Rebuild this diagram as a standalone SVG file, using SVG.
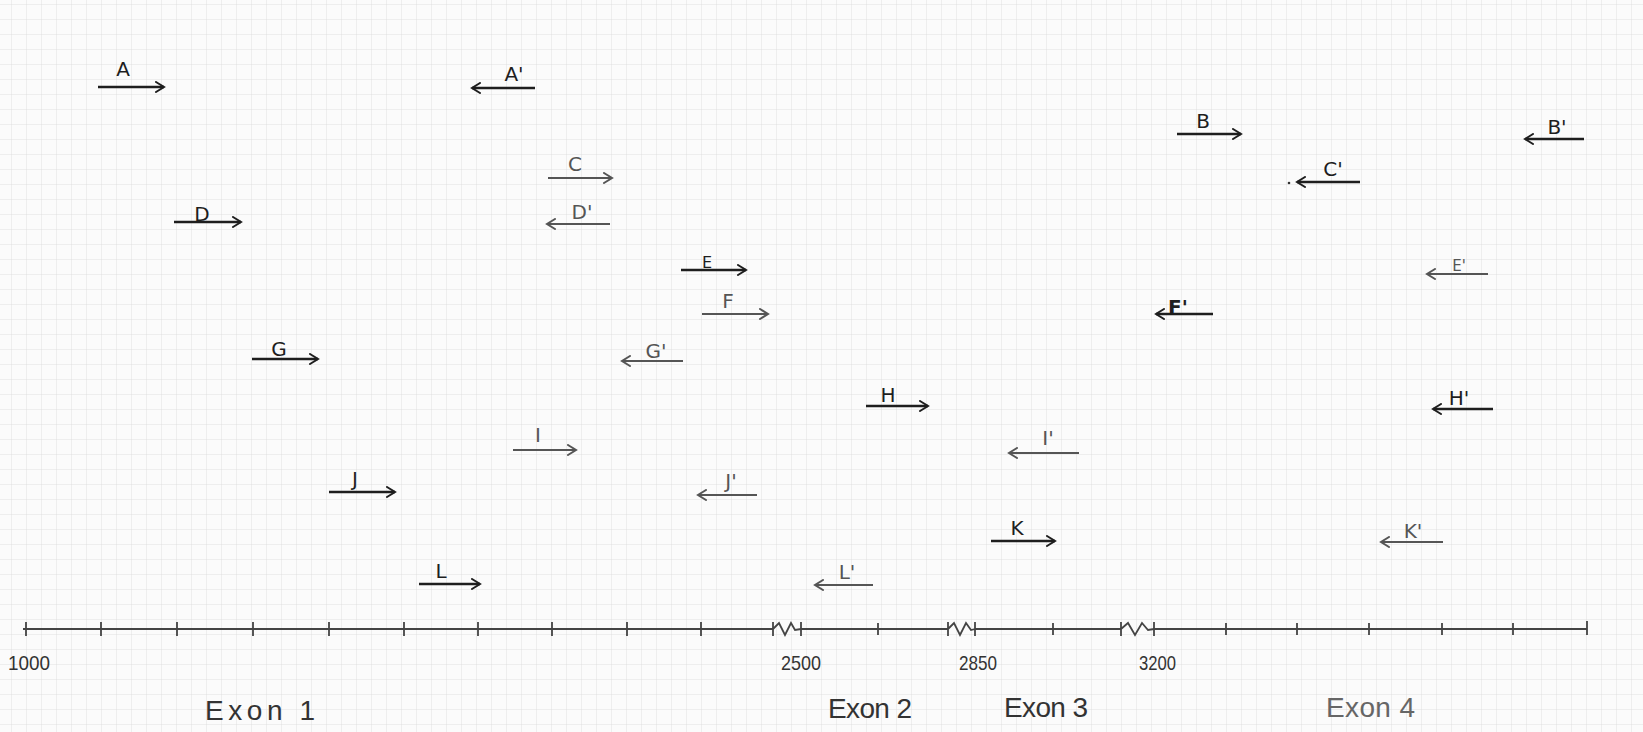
<svg xmlns="http://www.w3.org/2000/svg" width="1643" height="732" viewBox="0 0 1643 732">
<defs>
<pattern id="grid" x="11" y="4" width="15" height="15" patternUnits="userSpaceOnUse">
<path d="M15,0 L0,0 L0,15" fill="none" stroke="#d9d9d9" stroke-width="0.8"/>
</pattern>
<marker id="ahd" viewBox="-10 -6 12 12" markerWidth="12" markerHeight="12" refX="0" refY="0" orient="auto" markerUnits="userSpaceOnUse">
<path d="M-8,-5 L0,0 L-8,5" fill="none" stroke="#1e1e1e" stroke-width="2" stroke-linecap="round"/>
</marker>
<marker id="ahm" viewBox="-10 -6 12 12" markerWidth="12" markerHeight="12" refX="0" refY="0" orient="auto" markerUnits="userSpaceOnUse">
<path d="M-8,-5 L0,0 L-8,5" fill="none" stroke="#555" stroke-width="2" stroke-linecap="round"/>
</marker>
</defs>
<style>
.d line{stroke:#1e1e1e;stroke-width:2.4;marker-end:url(#ahd)}
.m line{stroke:#555;stroke-width:2.2;marker-end:url(#ahm)}
.d text{fill:#1e1e1e}
.m text{fill:#555}
text{font-family:"DejaVu Sans","Liberation Sans",sans-serif;font-size:20px;text-anchor:middle}
.axis{stroke:#444;stroke-width:1.8;fill:none}
.num{font-family:"Liberation Sans",sans-serif;font-size:21px;fill:#333;text-anchor:start}
.exon{font-family:"Liberation Sans",sans-serif;font-size:28px;fill:#333;text-anchor:start}
</style>
<rect width="1643" height="732" fill="#fbfbfb"/>
<rect width="1643" height="732" fill="url(#grid)"/>

<g id="A" class="d"><line x1="98" y1="87" x2="164" y2="87"/><text x="123" y="76">A</text></g>
<g id="A_prime" class="d"><line x1="535" y1="88" x2="472" y2="88"/><text x="514" y="81">A'</text></g>
<g id="B" class="d"><line x1="1177" y1="134" x2="1241" y2="134"/><text x="1203" y="128">B</text></g>
<g id="B_prime" class="d"><line x1="1584" y1="139" x2="1525" y2="139"/><text x="1557" y="134">B'</text></g>
<g id="C" class="m"><line x1="548" y1="178" x2="612" y2="178"/><text x="575" y="171">C</text></g>
<g id="C_prime" class="d"><line x1="1360" y1="182" x2="1297" y2="182"/><text x="1333" y="176">C'</text><circle cx="1289" cy="183" r="1.3" fill="#333"/></g>
<g id="D" class="d"><line x1="174" y1="222" x2="241" y2="222"/><text x="202" y="221">D</text></g>
<g id="D_prime" class="m"><line x1="610" y1="224" x2="547" y2="224"/><text x="582" y="219">D'</text></g>
<g id="E" class="d"><line x1="681" y1="270" x2="746" y2="270"/><text x="707" y="268" style="font-size:16px">E</text></g>
<g id="E_prime" class="m"><line x1="1488" y1="274" x2="1427" y2="274"/><text x="1459" y="271" style="font-size:15px">E'</text></g>
<g id="F" class="m"><line x1="702" y1="314" x2="768" y2="314"/><text x="728" y="308">F</text></g>
<g id="F_prime" class="d"><line x1="1213" y1="314" x2="1156" y2="314"/><text x="1178" y="314" style="font-weight:bold">F'</text></g>
<g id="G" class="d"><line x1="252" y1="359" x2="318" y2="359"/><text x="279" y="356">G</text></g>
<g id="G_prime" class="m"><line x1="683" y1="361" x2="622" y2="361"/><text x="656" y="358">G'</text></g>
<g id="H" class="d"><line x1="866" y1="406" x2="928" y2="406"/><text x="888" y="402">H</text></g>
<g id="H_prime" class="d"><line x1="1493" y1="409" x2="1433" y2="409"/><text x="1459" y="405">H'</text></g>
<g id="I" class="m"><line x1="513" y1="450" x2="576" y2="450"/><text x="538" y="442">I</text></g>
<g id="I_prime" class="m"><line x1="1079" y1="453" x2="1009" y2="453"/><text x="1048" y="445">I'</text></g>
<g id="J" class="d"><line x1="329" y1="492" x2="395" y2="492"/><text x="355" y="486">J</text></g>
<g id="J_prime" class="m"><line x1="757" y1="495" x2="698" y2="495"/><text x="731" y="488">J'</text></g>
<g id="K" class="d"><line x1="991" y1="541" x2="1055" y2="541"/><text x="1017" y="535">K</text></g>
<g id="K_prime" class="m"><line x1="1443" y1="542" x2="1381" y2="542"/><text x="1413" y="538">K'</text></g>
<g id="L" class="d"><line x1="419" y1="584" x2="480" y2="584"/><text x="441" y="578">L</text></g>
<g id="L_prime" class="m"><line x1="873" y1="585" x2="815" y2="585"/><text x="847" y="579">L'</text></g>

<g id="axis">
<path class="axis" d="M23,629 L773,629 M801,629 L948,629 M975,629 L1121,629 M1154,629 L1587,629"/>
<path class="axis" d="M26,622 v14 M101,622 v14 M177,622 v14 M253,622 v14 M329,622 v14 M404,622 v14 M478,622 v14 M552,622 v14 M627,622 v14 M701,622 v14 M878,623 v12 M1053,623 v12 M1226,623 v12 M1297,623 v12 M1369,623 v12 M1442,623 v12 M1513,623 v12 M1587,621 v14"/>
<path class="axis" d="M773,622 v14 M773,629 L779,623 L785,635 L791,623 L795,630 L801,629 M801,622 v14"/>
<path class="axis" d="M948,622 v14 M948,629 L954,623 L960,635 L966,623 L971,630 L975,629 M975,622 v14"/>
<path class="axis" d="M1121,622 v14 M1121,629 L1128,623 L1135,635 L1142,623 L1148,630 L1154,629 M1154,622 v14"/>
<text class="num" x="8" y="670" textLength="42" lengthAdjust="spacingAndGlyphs">1000</text>
<text class="num" x="781" y="670" textLength="40" lengthAdjust="spacingAndGlyphs">2500</text>
<text class="num" x="959" y="670" textLength="38" lengthAdjust="spacingAndGlyphs">2850</text>
<text class="num" x="1139" y="670" textLength="37" lengthAdjust="spacingAndGlyphs">3200</text>
</g>

<g id="exons">
<text class="exon" x="205" y="720" textLength="110">Exon 1</text>
<text class="exon" x="828" y="718" textLength="84">Exon 2</text>
<text class="exon" x="1004" y="717" textLength="84">Exon 3</text>
<text class="exon" x="1326" y="717" textLength="89" style="fill:#666">Exon 4</text>
</g>
</svg>
